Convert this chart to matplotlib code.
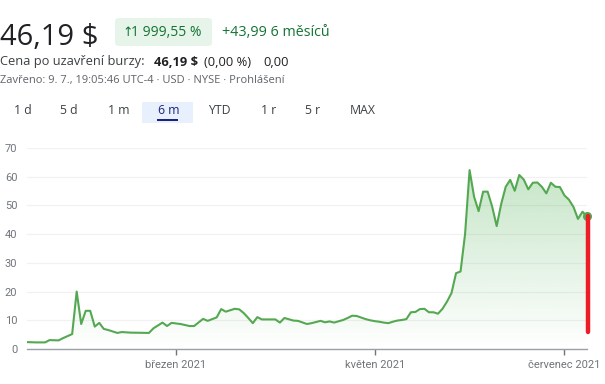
import numpy as np
import matplotlib
matplotlib.use('Agg')
import matplotlib.pyplot as plt
import matplotlib.patches as patches
from matplotlib.path import Path

plt.rcParams['font.family'] = ['Roboto', 'DejaVu Sans']
HEAD = ['Open Sans', 'DejaVu Sans']

# trading days (x axis is spaced by trading day)
dates = [
    '2021-01-11', '2021-01-13', '2021-01-15', '2021-01-19', '2021-01-21', '2021-01-22',
    '2021-01-25', '2021-01-26', '2021-01-27', '2021-01-28', '2021-01-29', '2021-02-01',
    '2021-02-02', '2021-02-03', '2021-02-04', '2021-02-05', '2021-02-09', '2021-02-10',
    '2021-02-12', '2021-02-19', '2021-02-22', '2021-02-24', '2021-02-25', '2021-02-26',
    '2021-03-02', '2021-03-04', '2021-03-05', '2021-03-09', '2021-03-10', '2021-03-12',
    '2021-03-15', '2021-03-16', '2021-03-18', '2021-03-19', '2021-03-22', '2021-03-23',
    '2021-03-24', '2021-03-25', '2021-03-26', '2021-03-31', '2021-04-01', '2021-04-05',
    '2021-04-07', '2021-04-08', '2021-04-12', '2021-04-13', '2021-04-15', '2021-04-16',
    '2021-04-19', '2021-04-20', '2021-04-22', '2021-04-23', '2021-04-26', '2021-04-27',
    '2021-04-29', '2021-04-30', '2021-05-03', '2021-05-04', '2021-05-05', '2021-05-06',
    '2021-05-07', '2021-05-10', '2021-05-11', '2021-05-12', '2021-05-13', '2021-05-14',
    '2021-05-17', '2021-05-18', '2021-05-19', '2021-05-20', '2021-05-21', '2021-05-24',
    '2021-05-25', '2021-05-26', '2021-05-27', '2021-05-28', '2021-06-01', '2021-06-02',
    '2021-06-03', '2021-06-04', '2021-06-07', '2021-06-08', '2021-06-09', '2021-06-10',
    '2021-06-11', '2021-06-14', '2021-06-15', '2021-06-16', '2021-06-17', '2021-06-18',
    '2021-06-21', '2021-06-22', '2021-06-23', '2021-06-24', '2021-06-25', '2021-06-28',
    '2021-06-29', '2021-06-30', '2021-07-01', '2021-07-02', '2021-07-06', '2021-07-07',
    '2021-07-08', '2021-07-09',
]
prices = [
    2.4, 2.3, 2.3, 3.1, 3.0, 3.8,
    4.5, 5.2, 20.0, 8.7, 13.3, 13.3,
    7.8, 9.1, 7.0, 6.6, 5.6, 5.9,
    5.7, 5.6, 7.2, 9.2, 8.0, 9.1,
    8.7, 8.0, 8.0, 10.5, 9.8, 11.0,
    13.9, 13.0, 14.0, 13.8, 12.5, 10.8,
    9.0, 11.1, 10.3, 10.3, 9.2, 10.8,
    9.9, 9.8, 8.7, 9.0, 9.8, 9.3,
    9.6, 9.2, 10.1, 10.8, 11.6, 11.5,
    10.4, 10.0, 9.7, 9.5, 9.2, 9.0,
    9.5, 9.9, 10.1, 10.4, 12.8, 12.9,
    13.9, 14.0, 12.8, 12.8, 12.3, 14.0,
    16.5, 19.5, 26.4, 27.0, 40.0, 62.3,
    53.0, 48.0, 54.8, 54.8, 49.6, 42.8,
    50.5, 56.5, 58.9, 55.1, 60.6, 59.0,
    55.6, 57.9, 58.0, 56.5, 54.2, 57.9,
    56.5, 56.4, 53.5, 52.0, 49.5, 45.3,
    47.8, 46.19,
]
holidays = ['2021-01-18', '2021-02-15', '2021-04-02', '2021-05-31', '2021-07-05']
start_day = '2021-01-11'

tick_dates = ['2021-03-01', '2021-05-01', '2021-07-01']
tick_labels = ['březen 2021', 'květen 2021', 'červenec 2021']
y_ticks = [0, 10, 20, 30, 40, 50, 60, 70]
marker_low = 5.9   # bottom of the red marker

tabs = ['1 d', '5 d', '1 m', '6 m', 'YTD', '1 r', '5 r', 'MAX']
tab_x = [14, 60, 108, 158, 208, 261, 305, 350]

W, H = 605, 384
fig = plt.figure(figsize=(W / 100, H / 100), dpi=100)


def fx(x):
    return x / W


def fy(y):
    return 1 - y / H


# header
fig.text(fx(0), fy(45), '46,19 $', fontsize=21, color='#202124', va='baseline',
         family=HEAD)
pill = patches.FancyBboxPatch((fx(115), fy(46)), fx(97), 28 / H,
                              boxstyle='round,pad=0,rounding_size=0.008',
                              transform=fig.transFigure, facecolor='#e6f4ea',
                              edgecolor='none')
fig.patches.append(pill)
fig.text(fx(122), fy(32), '\u2191', fontsize=9, color='#137333', va='center',
         family=['DejaVu Sans'])
fig.text(fx(131), fy(32), '1 999,55 %', fontsize=10, color='#137333', va='center',
         family=HEAD)
fig.text(fx(222), fy(32), '+43,99 6 měsíců', fontsize=10.3, color='#137333', va='center',
         family=HEAD)

fig.text(fx(0), fy(62), 'Cena po uzavření burzy:', fontsize=9.3, color='#3c4043',
         va='center', family=HEAD)
fig.text(fx(154), fy(62), '46,19 $', fontsize=9.3, color='#202124', va='center',
         fontweight='bold', family=HEAD)
fig.text(fx(204), fy(62), '(0,00 %)', fontsize=9.3, color='#202124', va='center',
         family=HEAD)
fig.text(fx(263), fy(62), '0,00', fontsize=9.3, color='#202124', va='center',
         family=HEAD)
fig.text(fx(0), fy(80), 'Zavřeno: 9. 7., 19:05:46 UTC-4 · USD · NYSE · Prohlášení',
         fontsize=8.0, color='#5f6368', va='center', family=HEAD)

# range tabs
fig.patches.append(patches.Rectangle((fx(142), fy(123)), fx(51), 21 / H,
                                     transform=fig.transFigure,
                                     facecolor='#e8f0fe', edgecolor='none'))
fig.patches.append(patches.Rectangle((fx(157), fy(121)), fx(21), 2 / H,
                                     transform=fig.transFigure,
                                     facecolor='#1a237e', edgecolor='none'))
for label, x in zip(tabs, tab_x):
    color = '#1a237e' if label == '6 m' else '#3c4043'
    fig.text(fx(x), fy(111), label, fontsize=8.8, color=color,
             va='center', family=HEAD)

# chart
ax = fig.add_axes([fx(27), fy(349), fx(560), (349 - 148) / H])
xs = np.busday_count(start_day, dates, holidays=holidays)
ys = np.array(prices)
line_color = '#55a852'

grad = np.linspace(0.0, 1.0, 256).reshape(-1, 1)
rgba = np.zeros((256, 1, 4))
rgba[..., :3] = matplotlib.colors.to_rgb('#4caf50')
rgba[..., 3] = grad * 0.32
img = ax.imshow(rgba, extent=[0, 124, 0, max(prices)], origin='lower',
                aspect='auto', zorder=1, interpolation='bilinear')
verts = np.column_stack([np.r_[xs, xs[-1], xs[0]], np.r_[ys, 0, 0]])
clip = patches.PathPatch(Path(verts), transform=ax.transData, facecolor='none',
                         edgecolor='none')
ax.add_patch(clip)
img.set_clip_path(clip)
ax.set_xlim(0, 124)
ax.set_ylim(0, 70)

ax.plot(xs, ys, color=line_color, lw=1.5, zorder=3, solid_joinstyle='round')
ax.plot([xs[-1]], [ys[-1]], 'o', color=line_color, ms=5.5, zorder=4, clip_on=False)
ax.plot([xs[-1] + 0.3, xs[-1] + 0.3], [ys[-1], marker_low], color='#ee1c25', lw=3.2,
        zorder=5, clip_on=False, solid_capstyle='round')

ax.set_yticks(y_ticks)
ax.yaxis.grid(True, color='#f1f1f1', lw=0.9)
ax.set_axisbelow(True)
ax.tick_params(axis='y', length=0, labelsize=8, labelcolor='#70757a', pad=7)
ax.set_xticks(np.busday_count(start_day, tick_dates, holidays=holidays))
ax.set_xticklabels(tick_labels)
ax.tick_params(axis='x', length=4, width=1, color='#70757a', labelsize=8,
               labelcolor='#70757a', pad=4)
for side in ['top', 'right', 'left']:
    ax.spines[side].set_visible(False)
ax.spines['bottom'].set_color('#9aa0a6')
ax.spines['bottom'].set_linewidth(1)

fig.savefig('out.png', dpi=100)
